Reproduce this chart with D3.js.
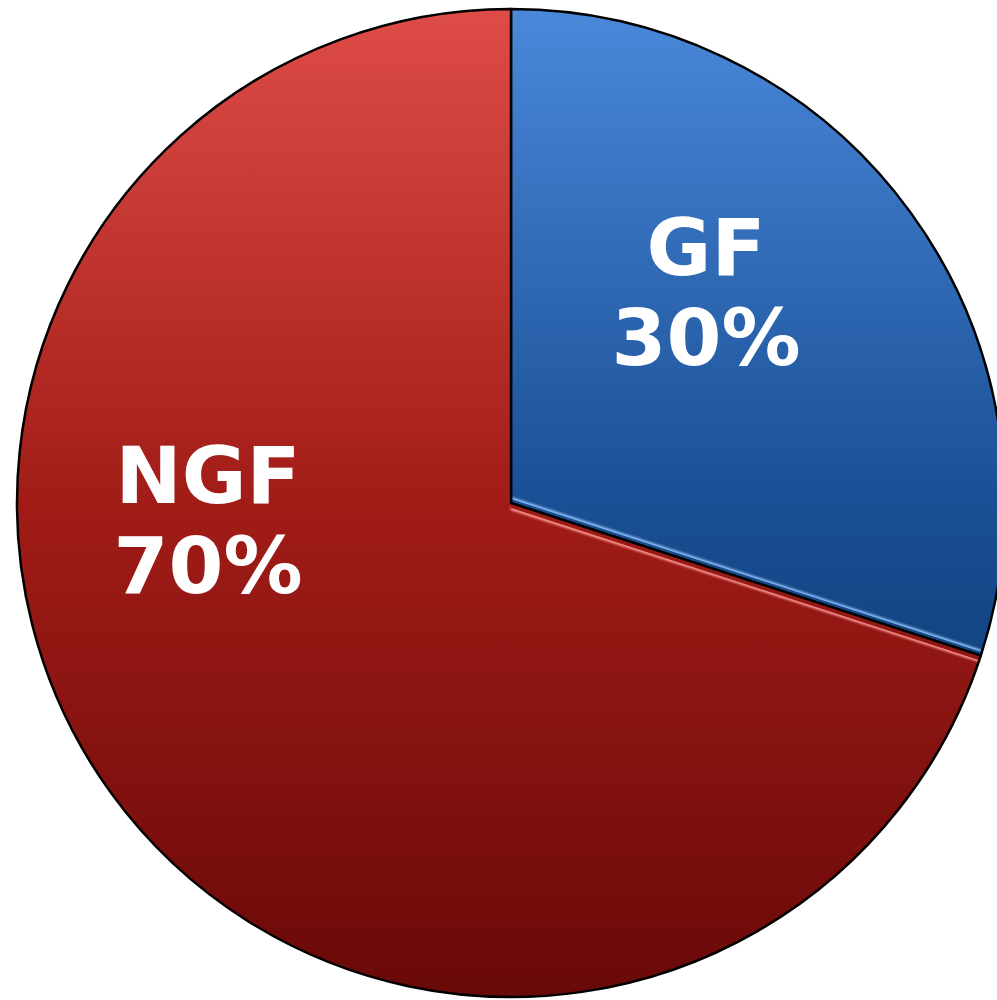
<!DOCTYPE html>
<html>
<head>
<meta charset="utf-8">
<script src="https://cdn.jsdelivr.net/npm/d3@7"></script>
<style>
  html, body { margin: 0; padding: 0; background: #fff; }
  svg { display: block; }
</style>
</head>
<body>
<svg id="chart" width="997" height="1000"></svg>
<script>
const labels = ['GF', 'NGF']
const values = [30, 70]
const topColors = ['#4a88da', '#de4c47']
const midColors = ['#194f94', '#a11c17']
const bottomColors = ['#062c5c', '#690909']
const rimColors = ['#8ec0f5', '#ff9a94']

const width = 997
const height = 1000
const cx = 511
const cy = 503
const radius = 494

const svg = d3.select('#chart')
const defs = svg.append('defs')

// gradients live in the translated space of the pie group
labels.forEach((l, i) => {
  const g = defs.append('linearGradient')
    .attr('id', 'grad-' + l)
    .attr('gradientUnits', 'userSpaceOnUse')
    .attr('x1', 0).attr('y1', -radius)
    .attr('x2', 0).attr('y2', radius)
  g.append('stop').attr('offset', '0%').attr('stop-color', topColors[i])
  g.append('stop').attr('offset', '50%').attr('stop-color', midColors[i])
  g.append('stop').attr('offset', '100%').attr('stop-color', bottomColors[i])
})

defs.append('filter').attr('id', 'soft')
  .append('feGaussianBlur').attr('stdDeviation', 1.2)

const pie = d3.pie().sort(null).value(d => d)
const arcs = pie(values)
const arc = d3.arc().innerRadius(0).outerRadius(radius)

const root = svg.append('g').attr('transform', `translate(${cx},${cy})`)

// clip paths so the rim highlights stay inside each slice
arcs.forEach((a, i) => {
  defs.append('clipPath').attr('id', 'clip-' + labels[i])
    .append('path').attr('d', arc(a))
})

const slice = root.selectAll('.slice').data(arcs).enter()
  .append('g').classed('slice', true)

slice.append('path')
  .attr('d', arc)
  .style('fill', (d, i) => `url(#grad-${labels[i]})`)

// light rim along the shared lower edge (end of GF, start of NGF)
const edgeAngle = arcs[0].endAngle
const ex = Math.sin(edgeAngle) * radius
const ey = -Math.cos(edgeAngle) * radius
slice.append('line')
  .attr('clip-path', (d, i) => `url(#clip-${labels[i]})`)
  .attr('x1', 0).attr('y1', 0)
  .attr('x2', ex).attr('y2', ey)
  .attr('transform', (d, i) => i === 0 ? 'translate(0,-4)' : 'translate(0,5)')
  .style('stroke', (d, i) => rimColors[i])
  .style('stroke-width', 4)
  .attr('filter', 'url(#soft)')

// darker shadow along the vertical edge on the NGF side
slice.filter((d, i) => i === 1).append('line')
  .attr('clip-path', 'url(#clip-NGF)')
  .attr('x1', -3).attr('y1', 0)
  .attr('x2', -3).attr('y2', -radius)
  .style('stroke', '#000')
  .style('stroke-opacity', 0.35)
  .style('stroke-width', 4)
  .attr('filter', 'url(#soft)')

slice.append('path')
  .attr('d', arc)
  .style('fill', 'none')
  .style('stroke', '#000')
  .style('stroke-width', 2.5)
  .style('stroke-linejoin', 'round')

// labels
const labelPos = [[706 - cx, 275 - cy], [208 - cx, 503 - cy]]
const text = root.selectAll('.label').data(arcs).enter()
  .append('text').classed('label', true)
  .attr('transform', (d, i) => `translate(${labelPos[i]})`)
  .attr('text-anchor', 'middle')
  .style('font-family', '"DejaVu Sans", sans-serif')
  .style('font-weight', 'bold')
  .style('font-size', '79px')
  .style('fill', '#fff')
text.append('tspan').attr('x', 0).attr('y', 0).text((d, i) => labels[i])
text.append('tspan').attr('x', 0).attr('y', 90).text(d => d.data + '%')
</script>
</body>
</html>
